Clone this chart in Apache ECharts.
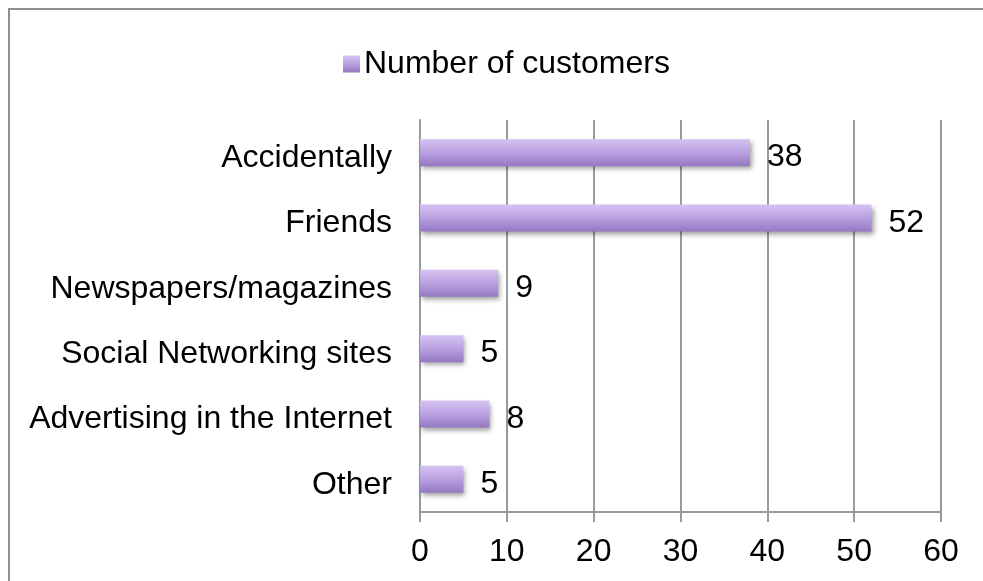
<!DOCTYPE html>
<html>
<head>
<meta charset="utf-8">
<script src="https://cdn.jsdelivr.net/npm/echarts@6/dist/echarts.min.js"></script>
<style>
  html, body { margin: 0; padding: 0; background: #fff; }
  #chart { width: 983px; height: 581px; }
</style>
</head>
<body>
<div id="chart"></div>
<script>
// Where customers heard about us
const categories = ['Accidentally', 'Friends', 'Newspapers/magazines', 'Social Networking sites', 'Advertising in the Internet', 'Other'];
const customers = [38, 52, 9, 5, 8, 5];
const seriesName = 'Number of customers';
const axisMin = 0;
const axisMax = 60;
const axisStep = 10;

const FONT = '"Liberation Sans", Arial, sans-serif';
const FONT_SIZE = 32;
const GRID_COLOR = '#9a9a9a';

const barFill = new echarts.graphic.LinearGradient(0, 0, 0, 1, [
  { offset: 0, color: '#d5c3f1' },
  { offset: 0.5, color: '#b9a0e0' },
  { offset: 1, color: '#9578c2' }
]);

const chart = echarts.init(document.getElementById('chart'), null, { renderer: 'canvas' });

chart.setOption({
  animation: false,
  backgroundColor: '#ffffff',
  textStyle: { fontFamily: FONT, color: '#000' },
  graphic: [{
    type: 'rect',
    silent: true,
    shape: { x: 9, y: 9, width: 1000, height: 600 },
    style: { fill: 'none', stroke: '#8f8f8f', lineWidth: 2 },
    z: 100
  }],
  legend: {
    left: 338,
    top: 43,
    itemWidth: 17,
    itemHeight: 17,
    itemGap: 10,
    icon: 'rect',
    textStyle: { fontFamily: FONT, fontSize: FONT_SIZE, color: '#000', padding: [0, 0, 0, -1] },
    data: [seriesName]
  },
  grid: {
    left: 420,
    right: 42,
    top: 120,
    bottom: 69,
    containLabel: false
  },
  xAxis: {
    type: 'value',
    min: axisMin,
    max: axisMax,
    interval: axisStep,
    axisLine: { show: true, lineStyle: { color: GRID_COLOR, width: 2 } },
    axisTick: { show: true, length: 10, lineStyle: { color: GRID_COLOR, width: 2 } },
    splitLine: { show: true, lineStyle: { color: GRID_COLOR, width: 2 } },
    axisLabel: { fontFamily: FONT, fontSize: FONT_SIZE, color: '#000', margin: 24 }
  },
  yAxis: {
    type: 'category',
    inverse: true,
    data: categories,
    axisLine: { show: true, lineStyle: { color: GRID_COLOR, width: 2 } },
    axisTick: { show: false },
    axisLabel: {
      margin: 28,
      formatter: (name) => '{c|' + name + '}',
      rich: {
        c: { fontFamily: FONT, fontSize: FONT_SIZE, color: '#000', padding: [11, 0, 0, 0] }
      }
    }
  },
  series: [{
    name: seriesName,
    type: 'bar',
    data: customers,
    barWidth: 27,
    itemStyle: {
      color: barFill,
      shadowColor: 'rgba(0,0,0,0.38)',
      shadowBlur: 5,
      shadowOffsetX: 2,
      shadowOffsetY: 3
    },
    label: {
      show: true,
      position: 'right',
      distance: 17,
      offset: [0, 5],
      fontFamily: FONT,
      fontSize: FONT_SIZE,
      color: '#000'
    }
  }]
});
</script>
</body>
</html>
